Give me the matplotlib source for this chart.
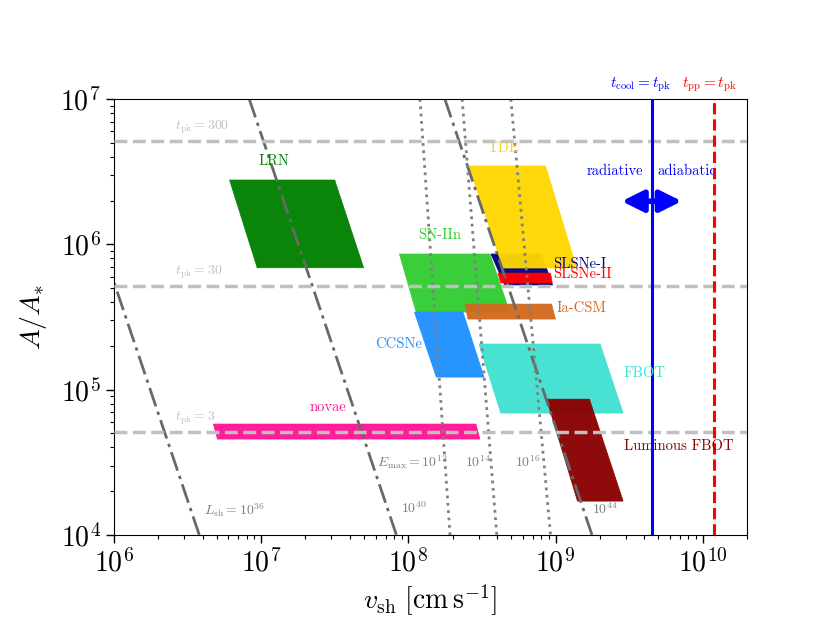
"""Shock velocity vs. wind density plane for CSM-interacting transients."""

import matplotlib

matplotlib.use("Agg")
import matplotlib.pyplot as plt

plt.rcParams["font.family"] = "serif"
plt.rcParams["font.serif"] = ["cmr10"]
plt.rcParams["mathtext.fontset"] = "cm"
plt.rcParams["axes.formatter.use_mathtext"] = True
plt.rcParams["axes.unicode_minus"] = False

# --- populations: each a parallelogram (top / bottom edge in A, corner velocities)
POP_NAMES = ["LRN", "SN-IIn", "CCSNe", "novae", "SLSNe-I", "SLSNe-II", "TDE",
             "Ia-CSM", "FBOT", "Luminous FBOT"]
A_TOP = [2.77e6, 8.58e5, 3.42e5, 5.8e4, 8.58e5, 6.34e5, 3.46e6, 3.88e5, 2.06e5, 8.6e4]
A_BOT = [6.9e5, 3.42e5, 1.22e5, 4.57e4, 5.25e5, 5.42e5, 6.87e5, 3.06e5, 6.9e4, 1.71e4]
V_TOP_LEFT = [6.1e6, 8.7e7, 1.1e8, 4.74e6, 3.64e8, 4.06e8, 2.58e8, 2.43e8, 3.02e8, 8.7e8]
V_TOP_RIGHT = [3.16e7, 3.58e8, 2.35e8, 2.88e8, 8.0e8, 9.25e8, 8.55e8, 9.4e8, 2.01e9, 1.7e9]
V_BOT_LEFT = [9.4e6, 1.13e8, 1.55e8, 5.05e6, 4.52e8, 4.25e8, 4.4e8, 2.54e8, 4.25e8, 1.41e9]
V_BOT_RIGHT = [4.97e7, 4.89e8, 3.27e8, 3.06e8, 9.55e8, 9.5e8, 1.39e9, 1.0e9, 2.88e9, 2.88e9]
POP_COLORS = ["green", "limegreen", "dodgerblue", "deeppink", "navy", "red", "gold",
              "chocolate", "turquoise", "darkred"]

# --- constant peak-time lines
TPK_VALUES = [3, 30, 300]
TPK_A = [5.15e4, 5.15e5, 5.15e6]

# --- constant shock luminosity lines (endpoints at A = 1e7 and A = 1e4)
LSH_EXP = [36, 40, 44]
LSH_V_TOP = [3.8e5, 8.3e6, 1.77e8]
LSH_V_BOT = [3.8e6, 8.3e7, 1.77e9]

# --- constant maximum particle energy lines (endpoints at A = 1e7 and A = 1e4)
EMAX_EXP = [12, 14, 16]
EMAX_V_TOP = [1.2e8, 2.32e8, 4.97e8]
EMAX_V_BOT = [1.92e8, 3.99e8, 9.25e8]
LINE_A = [1e7, 1e4]

# --- critical velocities
V_COOL = 4.5e9
V_PP = 1.19e10

# label anchor points (data coords)
POP_LABEL_XY = [(1.22e7, 3.74e6), (1.62e8, 1.16e6), (8.55e7, 2.06e5), (2.84e7, 7.6e4),
                (9.7e8, 7.3e5), (9.7e8, 6.25e5), (4.39e8, 4.6e6), (1.02e9, 3.65e5),
                (2.9e9, 1.3e5), (2.9e9, 4.1e4)]
POP_LABEL_HA = ["center", "center", "center", "center", "left", "left", "center",
                "left", "left", "left"]


def main() -> None:
    fig = plt.figure(figsize=(8.3, 6.23), dpi=100)
    ax = fig.add_axes([0.1373, 0.1413, 0.7627, 0.6998])
    ax.set_xscale("log")
    ax.set_yscale("log")

    # populations
    for i, name in enumerate(POP_NAMES):
        xs = [V_TOP_LEFT[i], V_TOP_RIGHT[i], V_BOT_RIGHT[i], V_BOT_LEFT[i]]
        ys = [A_TOP[i], A_TOP[i], A_BOT[i], A_BOT[i]]
        ax.fill(xs, ys, color=POP_COLORS[i], alpha=0.96, lw=0.5, zorder=1)
        lx, ly = POP_LABEL_XY[i]
        ax.text(lx, ly, name, color=POP_COLORS[i], fontsize=10.5,
                ha=POP_LABEL_HA[i], va="center", zorder=5)

    # t_pk lines
    for t, a in zip(TPK_VALUES, TPK_A):
        ax.axhline(a, color="silver", ls=(0, (3.7, 1.6)), lw=2.5, zorder=3)
        ax.text(2.6e6, a * 1.24, rf"$t_{{\rm pk}}={t}$", color="silver",
                fontsize=10, ha="left", va="center")

    # L_sh lines
    for vt, vb in zip(LSH_V_TOP, LSH_V_BOT):
        ax.plot([vt, vb], LINE_A, color="dimgray", ls=(0, (7, 2, 1.2, 2)), lw=2, zorder=2)
    ax.text(4.1e6, 1.48e4, r"$L_{\rm sh}=10^{36}$", color="gray", fontsize=10,
            ha="left", va="center")
    ax.text(8.97e7, 1.53e4, r"$10^{40}$", color="gray", fontsize=10,
            ha="left", va="center")
    ax.text(1.77e9, 1.5e4, r"$10^{44}$", color="gray", fontsize=10,
            ha="left", va="center")

    # E_max lines
    for vt, vb in zip(EMAX_V_TOP, EMAX_V_BOT):
        ax.plot([vt, vb], LINE_A, color="gray", ls=":", lw=2, zorder=2)
    ax.text(1.85e8, 3.18e4, r"$E_{\rm max}=10^{12}$", color="gray", fontsize=10,
            ha="right", va="center")
    ax.text(2.95e8, 3.18e4, r"$10^{14}$", color="gray", fontsize=10,
            ha="center", va="center")
    ax.text(6.5e8, 3.18e4, r"$10^{16}$", color="gray", fontsize=10,
            ha="center", va="center")

    # critical velocities
    ax.axvline(V_COOL, color="blue", lw=2.2, zorder=4)
    ax.axvline(V_PP, color="red", ls=(0, (3.7, 1.6)), lw=2.2, zorder=4)
    ax.text(0.8325, 1.032, r"$t_{\rm cool}=t_{\rm pk}$", color="blue", fontsize=11,
            ha="center", va="center", transform=ax.transAxes)
    ax.text(0.94, 1.032, r"$t_{\rm pp}=t_{\rm pk}$", color="red", fontsize=11,
            ha="center", va="center", transform=ax.transAxes)

    ax.annotate("", xy=(2.82e9, 1.98e6), xytext=(7.2e9, 1.98e6),
                arrowprops=dict(arrowstyle="<|-|>,head_length=1.3,head_width=0.65",
                                color="blue", lw=4, shrinkA=0, shrinkB=0), zorder=5)
    ax.text(3.95e9, 3.2e6, "radiative", color="blue", fontsize=10.5, ha="right",
            va="center")
    ax.text(4.9e9, 3.2e6, "adiabatic", color="blue", fontsize=10.5, ha="left",
            va="center")

    ax.set_xlim(1e6, 2e10)
    ax.set_ylim(1e4, 1e7)
    ax.set_xlabel(r"$v_{\rm sh}\ [{\rm cm\,s^{-1}}]$", fontsize=20)
    ax.set_ylabel(r"$A/A_{*}$", fontsize=20, labelpad=8)
    ax.tick_params(which="major", labelsize=20, length=6, width=1)
    ax.tick_params(which="minor", length=3, width=0.8)

    fig.savefig("out.png", dpi=100)


if __name__ == "__main__":
    main()
